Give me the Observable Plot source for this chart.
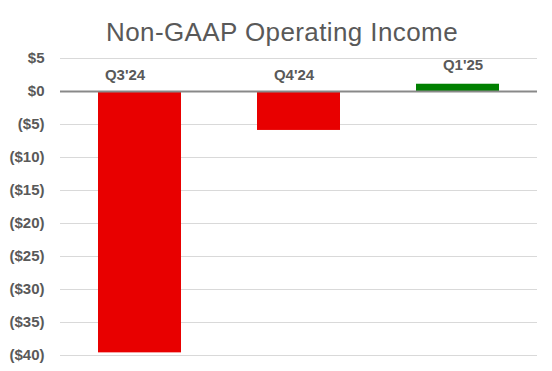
<!DOCTYPE html>
<html>
<head>
<meta charset="utf-8">
<script src="https://cdn.jsdelivr.net/npm/d3@7"></script>
<script src="https://cdn.jsdelivr.net/npm/@observablehq/plot@0.6"></script>
<style>
  html, body { margin: 0; padding: 0; background: #fff; }
  body { width: 552px; height: 371px; overflow: hidden; font-family: Arial, "Liberation Sans", sans-serif; }
  #title { margin: 0; padding: 19px 0 4px 12px; height: 27px; line-height: 27px; font-size: 26px; letter-spacing: 0.4px; font-weight: normal; color: #595959; text-align: center; white-space: nowrap; }
</style>
</head>
<body>
<div id="title">Non-GAAP Operating Income</div>
<div id="chart"></div>
<script>
const quarters = ["Q3'24", "Q4'24", "Q1'25"];
const values = [-39.6, -5.9, 1.1];
const yTicks = [5, 0, -5, -10, -15, -20, -25, -30, -35, -40];
const barColors = ["#e80000", "#e80000", "#008000"];

const data = quarters.map((q, i) => ({quarter: q, value: values[i], color: barColors[i]}));
const fmt = v => v < 0 ? `($${Math.abs(v)})` : `$${v}`;
const labelShift = {"Q3'24": -15, "Q4'24": -5, "Q1'25": 5};

const textMarks = quarters.map(q => {
  const d = data.filter(r => r.quarter === q);
  const pos = d[0].value > 0;
  return Plot.text(d, {
    x: "quarter",
    y: r => Math.max(r.value, 0),
    text: "quarter",
    dx: labelShift[q],
    dy: pos ? -14 : -12,
    lineAnchor: "bottom",
    fill: "#595959",
    fontSize: 15,
    fontWeight: "bold"
  });
});

const chart = Plot.plot({
  width: 552,
  height: 321,
  marginTop: 8,
  marginBottom: 16,
  marginLeft: 60,
  marginRight: 15,
  style: {fontFamily: "Arial, 'Liberation Sans', sans-serif", background: "#fff"},
  x: {domain: quarters, paddingInner: 0.48, paddingOuter: 0.24, axis: null},
  y: {domain: [-40, 5], ticks: yTicks, tickFormat: fmt, tickSize: 0, tickPadding: 16, label: null},
  marks: [
    Plot.gridY(yTicks, {stroke: "#d9d9d9", strokeOpacity: 1, strokeWidth: 1}),
    Plot.axisY(yTicks, {tickSize: 0, tickPadding: 16, tickFormat: fmt, label: null, fontSize: 15, fontWeight: "bold", fill: "#595959"}),
    Plot.barY(data, {x: "quarter", y: "value", fill: "color"}),
    Plot.ruleY([0], {stroke: "#898989", strokeWidth: 2}),
    ...textMarks
  ]
});
document.getElementById("chart").appendChild(chart);
</script>
</body>
</html>
